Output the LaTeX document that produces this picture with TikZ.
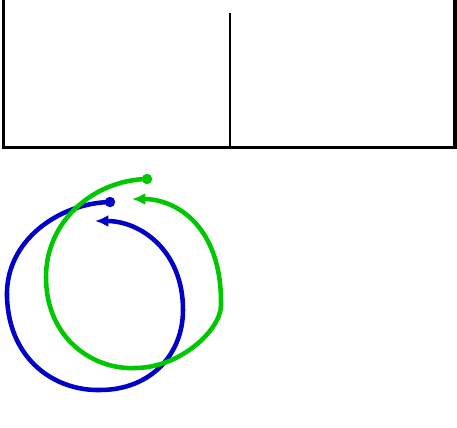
\documentclass[tikz,border=0pt]{standalone}
\usetikzlibrary{arrows.meta}
\definecolor{loopblue}{RGB}{0,0,200}
\definecolor{loopgreen}{RGB}{0,200,0}
\tikzset{
  loop/.style={line width=3.4pt, -{Latex[length=10pt,width=9pt]}}
}

\begin{document}
\begin{tikzpicture}[x=0.75pt,y=-0.75pt]
\useasboundingbox (0,0) rectangle (457,428);
% frame, open at the top
\draw[line width=2.6pt] (3.5,-5) -- (3.5,147.5) -- (455,147.5) -- (455,-5);
\draw[line width=0.9pt] (230,13) -- (230,147.5);
% blue loop
\draw[loop, loopblue] (110,202) .. controls (60,203) and (5,240) .. (7,297)
  .. controls (9,360) and (55,391) .. (100,390)
  .. controls (150,390) and (183,355) .. (183,310)
  .. controls (183,250) and (140,221) .. (95,221);
\fill[loopblue] (110,202) circle (3.9pt);
% green loop
\draw[loop, loopgreen] (147,179) .. controls (95,180) and (46,220) .. (46,277)
  .. controls (46,340) and (95,370) .. (135,368)
  .. controls (180,368) and (221,330) .. (221,305)
  .. controls (222,225) and (175,199) .. (132,199);
\fill[loopgreen] (147,179) circle (3.9pt);
\end{tikzpicture}
\end{document}
